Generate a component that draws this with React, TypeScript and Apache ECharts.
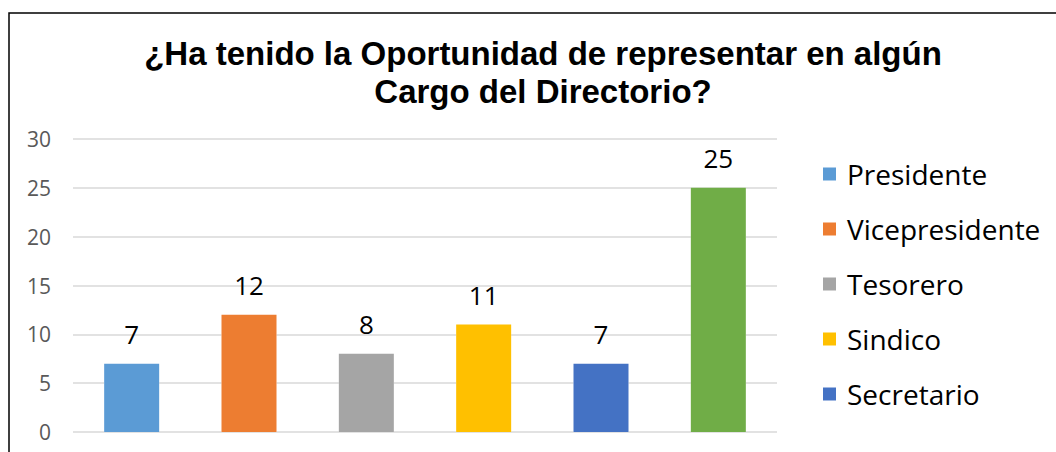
import React, { useEffect, useRef } from "react";
import * as echarts from "echarts";

const titleText = "¿Ha tenido la Oportunidad de representar en algún\nCargo del Directorio?";
const seriesNames = ["Presidente", "Vicepresidente", "Tesorero", "Sindico", "Secretario", "Otros"];
const values = [7, 12, 8, 11, 7, 25];
const colors = ["#5B9BD5", "#ED7D31", "#A5A5A5", "#FFC000", "#4472C4", "#70AD47"];
const legendNames = ["Presidente", "Vicepresidente", "Tesorero", "Sindico", "Secretario"];
const yTicks = [0, 5, 10, 15, 20, 25, 30];

export default function App() {
  const ref = useRef<HTMLDivElement>(null);
  useEffect(() => {
    document.body.style.margin = "0";
    const chart = echarts.init(ref.current!, null, { renderer: "svg" });
    const cats = seriesNames.map((_, i) => String(i));
    const bg = {
      name: "__bg",
      type: "bar",
      barWidth: 55,
      barGap: "-100%",
      silent: true,
      data: values,
      itemStyle: { color: "#fff", borderColor: "#fff", borderWidth: 10 },
      label: { show: false },
      z: 2,
    };
    const colored = seriesNames.map((name, i) => ({
      name,
      type: "bar",
      stack: "all",
      barWidth: 55,
      barGap: "-100%",
      data: values.map((v, j) => (j === i ? v : "-")),
      itemStyle: { color: colors[i] },
      label: {
        show: true,
        position: "top",
        distance: 17,
        color: "#000",
        fontFamily: "Open Sans",
        fontSize: 26,
      },
      z: 3,
    }));
    chart.setOption({
      animation: false,
      title: {
        text: titleText,
        left: 543,
        top: 34,
        padding: 0,
        textAlign: "center",
        textStyle: {
          fontFamily: "Liberation Sans",
          fontWeight: "bold",
          fontSize: 33,
          lineHeight: 38,
          color: "#000",
        },
      },
      graphic: [
        {
          type: "rect",
          shape: { x: 9, y: 13, width: 1200, height: 600 },
          style: { fill: "none", stroke: "#000", lineWidth: 1.5 },
          silent: true,
          z: 100,
        },
      ],
      legend: {
        orient: "vertical",
        left: 823,
        top: 159,
        padding: 0,
        itemWidth: 13,
        itemHeight: 13,
        itemGap: 25,
        icon: "rect",
        data: legendNames,
        textStyle: {
          fontFamily: "Open Sans",
          fontSize: 28,
          lineHeight: 30,
          color: "#000",
          padding: [0, 0, 0, 6],
        },
      },
      grid: { left: 73, right: 279, top: 139, bottom: 20 },
      xAxis: {
        type: "category",
        data: cats,
        axisLine: { show: false },
        axisTick: { show: false },
        axisLabel: { show: false },
      },
      yAxis: {
        type: "value",
        min: yTicks[0],
        max: yTicks[yTicks.length - 1],
        interval: 5,
        axisLine: { show: false },
        axisTick: { show: false },
        axisLabel: {
          margin: 22,
          color: "#595959",
          fontFamily: "Open Sans",
          fontSize: 21,
        },
        splitLine: { lineStyle: { color: "#D9D9D9", width: 1.5 } },
      },
      series: [bg, ...colored],
    });
    return () => chart.dispose();
  }, []);
  return <div ref={ref} style={{ width: 1056, height: 452 }} />;
}
